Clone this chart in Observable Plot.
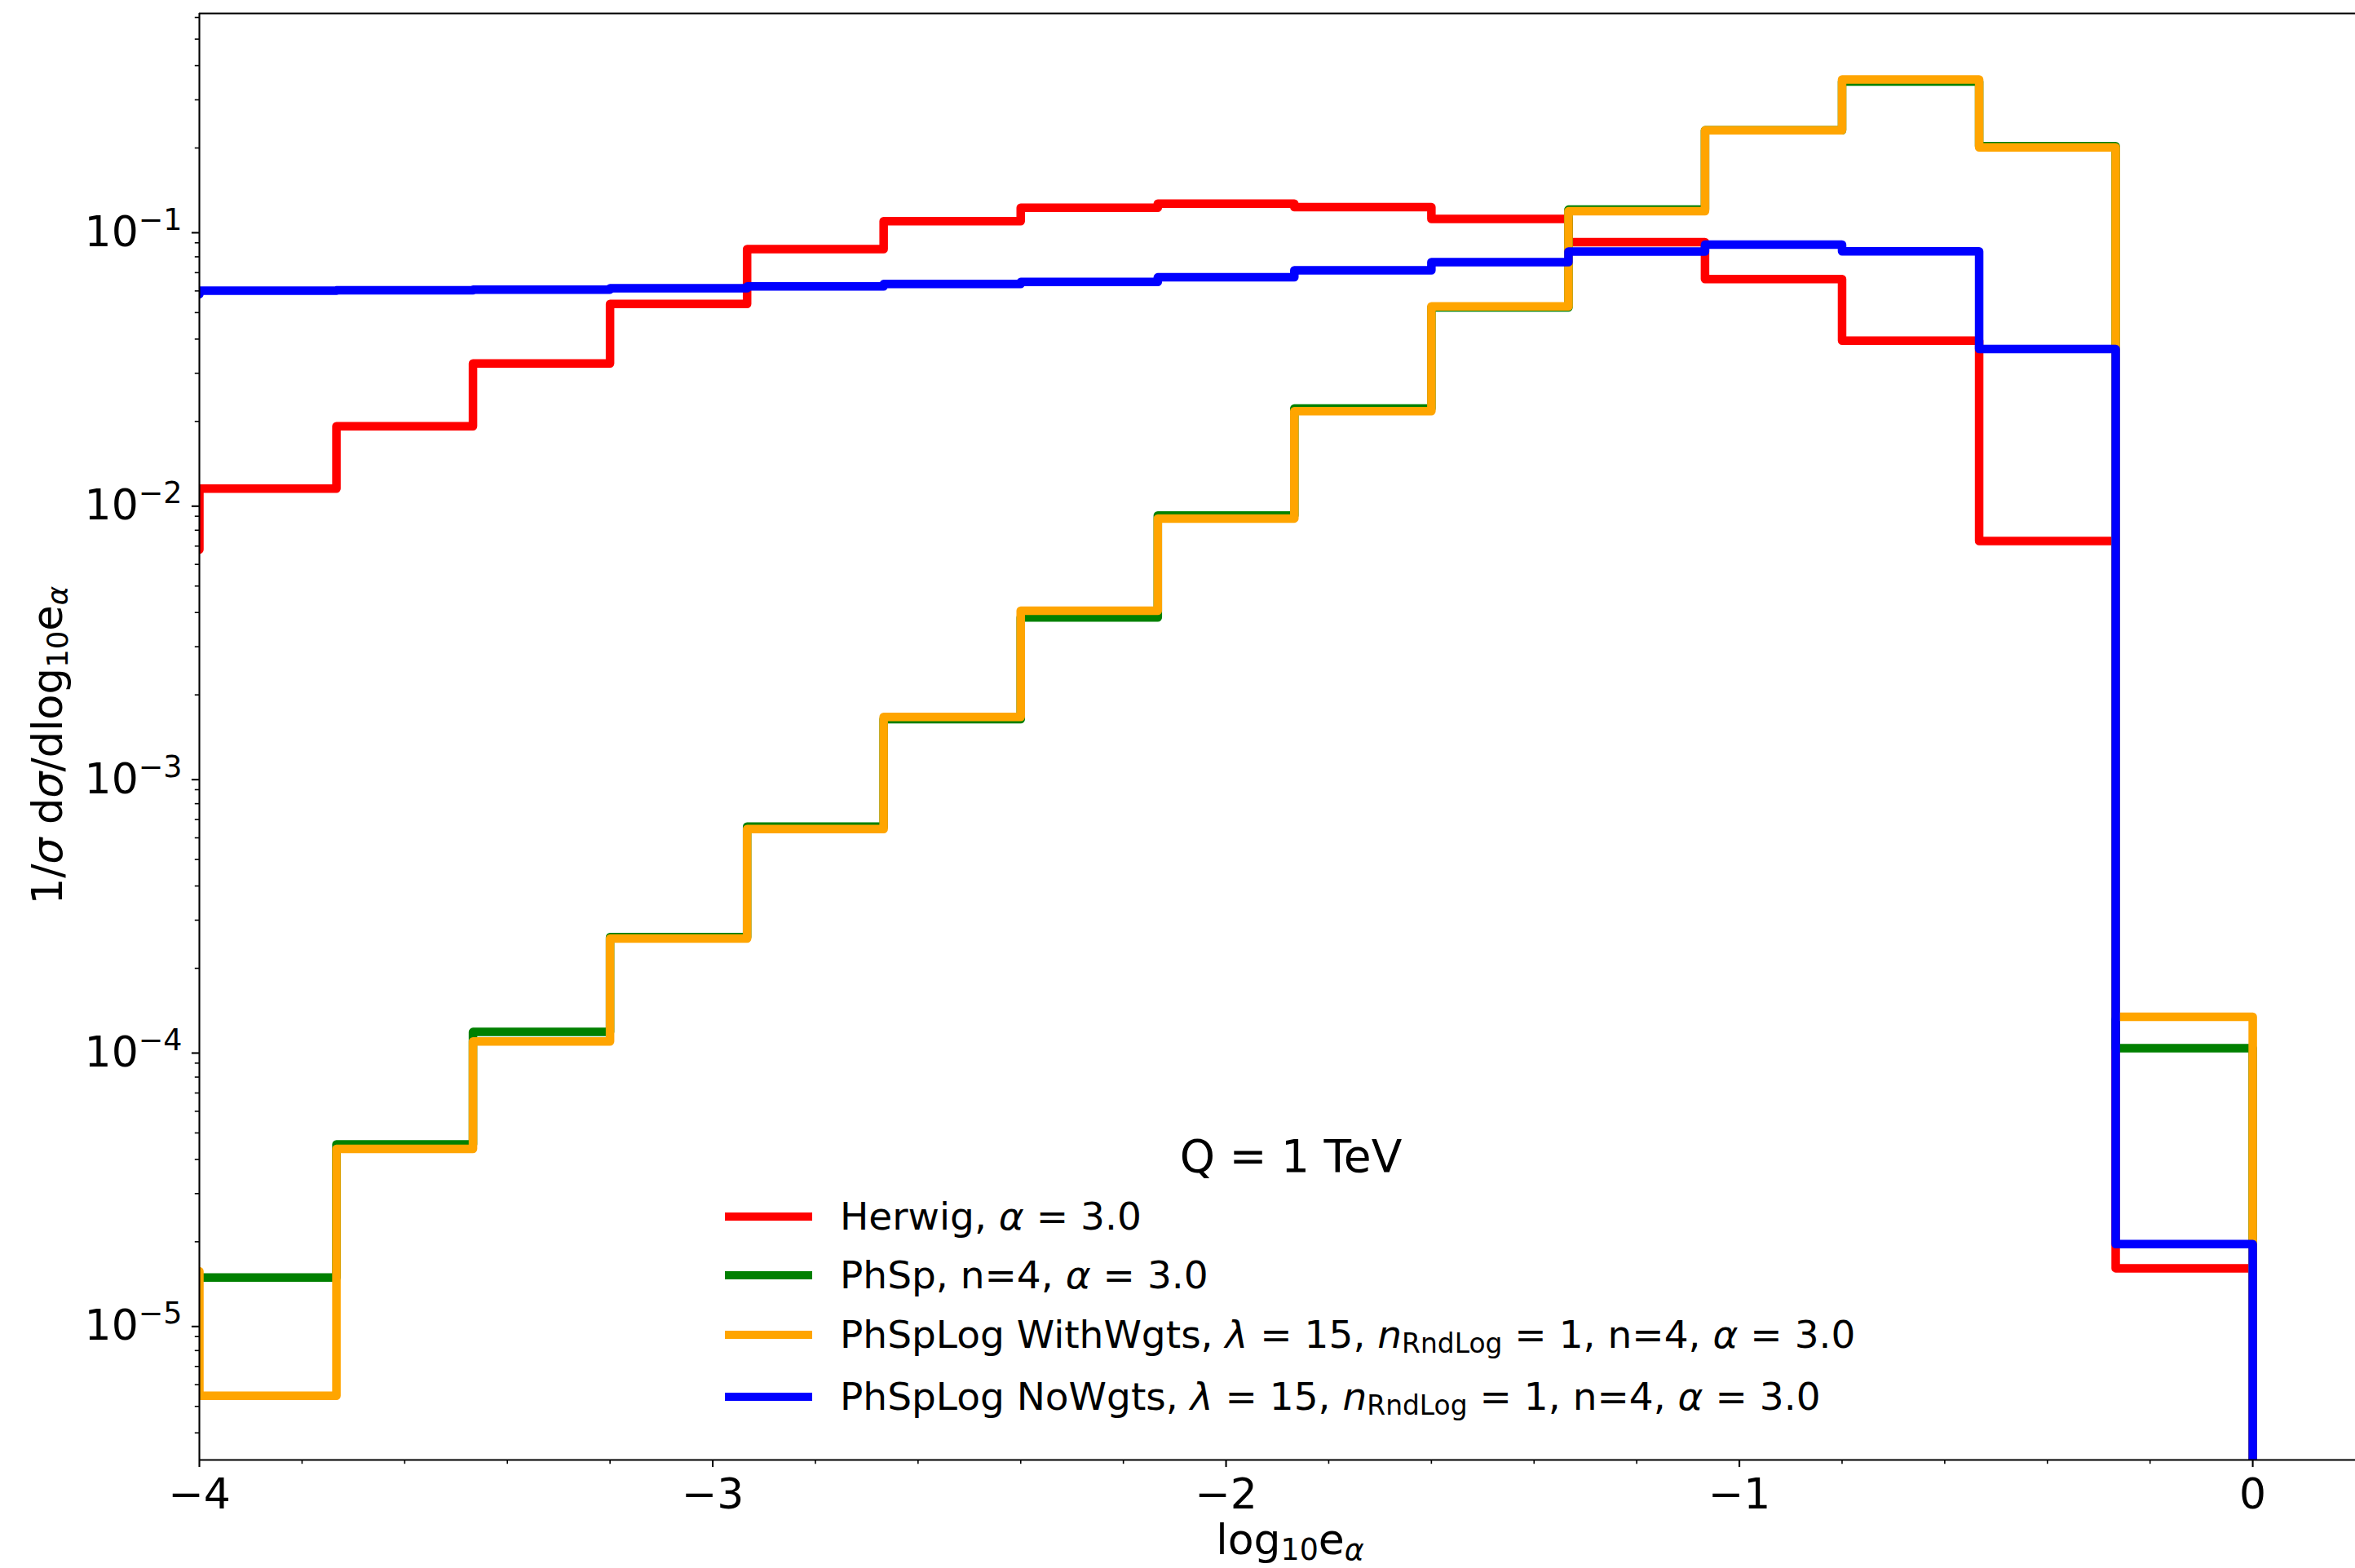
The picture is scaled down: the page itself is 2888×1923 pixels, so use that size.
<!DOCTYPE html>
<html><head><meta charset="utf-8">
<script src="https://cdn.jsdelivr.net/npm/d3@7"></script>
<script src="https://cdn.jsdelivr.net/npm/@observablehq/plot@0.6"></script>
<style>
html,body{margin:0;padding:0;background:#fff;}
#chart{position:relative;width:2888px;height:1923px;overflow:hidden;}
</style></head><body><div id="chart"></div>
<script>
// left bin edges (last entry: upper edge 0, beyond which the histograms are empty)
const binEdges = [-4.267, -4.0, -3.733, -3.467, -3.2, -2.933, -2.667, -2.4, -2.133, -1.867, -1.6, -1.333, -1.067, -0.8, -0.533, -0.267, 0.0];
// per-bin values; the last value is the empty region beyond 0 (below the axis)
const herwig          = [0.0068, 0.01135, 0.0192, 0.0326, 0.0538, 0.0854, 0.108, 0.121, 0.1252, 0.1216, 0.110, 0.0905, 0.0663, 0.0395, 0.0073, 1.6e-5, 1e-9];
const phsp            = [1.5e-5, 1.48e-5, 4.54e-5, 1.17e-4, 2.6e-4, 6.6e-4, 1.63e-3, 3.84e-3, 9.06e-3, 0.0223, 0.0522, 0.119, 0.232, 0.350, 0.203, 1.02e-4, 1e-9];
const phspLogWithWgts = [1.56e-5, 5.47e-6, 4.37e-5, 1.08e-4, 2.57e-4, 6.46e-4, 1.66e-3, 4.06e-3, 8.83e-3, 0.0218, 0.0527, 0.1175, 0.232, 0.356, 0.201, 1.33e-4, 1e-9];
const phspLogNoWgts   = [0.0584, 0.0601, 0.0603, 0.0607, 0.0614, 0.0623, 0.0636, 0.0647, 0.0673, 0.0714, 0.0765, 0.0836, 0.0887, 0.0838, 0.0368, 1.96e-5, 1e-9];

const seriesNames  = ["Herwig", "PhSp", "PhSpLog WithWgts", "PhSpLog NoWgts"];
const seriesValues = [herwig, phsp, phspLogWithWgts, phspLogNoWgts];
const seriesColors = ["red", "green", "orange", "blue"];

const xDomain = [-4, 0.2];
const yDomain = [Math.pow(10, -5.497), Math.pow(10, -0.207)];
const xTicks = [-4, -3, -2, -1, 0];
const xTickLabels = ["−4", "−3", "−2", "−1", "0"];
const xMinorTicks = [-3.8, -3.6, -3.4, -3.2, -2.8, -2.6, -2.4, -2.2, -1.8, -1.6, -1.4, -1.2, -0.8, -0.6, -0.4, -0.2];
const yTicks = [1e-5, 1e-4, 1e-3, 1e-2, 1e-1];
const yTickLabels = ["10^−5", "10^−4", "10^−3", "10^−2", "10^−1"];
const yMinorTicks = [];
for (let e = -6; e <= -1; e++) for (let m = 2; m <= 9; m++) {
  const v = m * Math.pow(10, e);
  if (v >= yDomain[0] && v <= yDomain[1]) yMinorTicks.push(v);
}

const rows = [];
seriesNames.forEach((name, s) => {
  binEdges.forEach((x, i) => rows.push({series: name, x, y: seriesValues[s][i]}));
});

const FS = 52;
const plot = Plot.plot({
  width: 2888, height: 1923,
  marginLeft: 244, marginRight: 0, marginTop: 16, marginBottom: 133,
  style: {fontFamily: "DejaVu Sans", fontSize: FS + "px", color: "black", background: "white"},
  x: {domain: xDomain, label: null},
  y: {type: "log", domain: yDomain, label: null},
  color: {domain: seriesNames, range: seriesColors},
  marks: [
    Plot.line(rows, {x: "x", y: "y", z: "series", stroke: "series", strokeWidth: 10.5,
      curve: "step-after", clip: true, strokeLinejoin: "round", strokeLinecap: "butt"}),
    Plot.axisX({ticks: xMinorTicks, tickSize: 5.2, strokeWidth: 1.6, tickFormat: () => "", label: null}),
    Plot.axisX({ticks: xTicks, tickSize: 9.1, strokeWidth: 2.1, tickPadding: 13,
      tickFormat: d => xTickLabels[xTicks.indexOf(d)], label: null}),
    Plot.axisY({ticks: yMinorTicks, tickSize: 5.2, strokeWidth: 1.6, tickFormat: () => "", label: null}),
    Plot.axisY({ticks: yTicks, tickSize: 9.1, strokeWidth: 2.1, tickPadding: 12, dy: 3,
      tickFormat: d => yTickLabels[yTicks.indexOf(d)], label: null}),
    Plot.ruleX([xDomain[0]], {strokeWidth: 2.1}),
    Plot.ruleY(yDomain, {strokeWidth: 2.1})
  ]
});
document.getElementById("chart").appendChild(plot);

const svg = d3.select(plot);
// superscript exponents on the y tick labels
svg.selectAll('g[aria-label="y-axis tick label"] text').each(function () {
  const t = this.textContent;
  if (!t.includes("^")) return;
  const [base, exp] = t.split("^");
  const sel = d3.select(this);
  sel.text(base);
  sel.append("tspan").attr("dy", -20).attr("font-size", 36.4).text(exp);
});

// rich text helper: parts [{t, it, sub}]
function rich(g, parts, attrs, fs = FS) {
  const txt = g.append("text").attr("font-family", "DejaVu Sans").attr("font-size", fs)
    .attr("fill", "black").attr("text-anchor", "start");
  Object.entries(attrs).forEach(([k, v]) => txt.attr(k, v));
  let off = 0;
  parts.forEach(p => {
    const target = p.sub ? Math.round(fs * 0.135) : 0;
    const ts = txt.append("tspan").text(p.t);
    if (target !== off) { ts.attr("dy", target - off); off = target; }
    if (p.sub) ts.attr("font-size", fs * 0.7);
    if (p.it) ts.attr("font-style", "italic");
  });
  return txt;
}

const ann = svg.append("g");
// axis labels
rich(ann, [{t: "log"}, {t: "10", sub: true}, {t: "e"}, {t: "α", it: true, sub: true}],
  {x: 1582, y: 1906, "text-anchor": "middle"});
rich(ann, [{t: "1/"}, {t: "σ", it: true}, {t: " d"}, {t: "σ", it: true}, {t: "/dlog"}, {t: "10", sub: true}, {t: "e"}, {t: "α", it: true, sub: true}],
  {transform: "translate(76,914) rotate(-90)", "text-anchor": "middle"}, 51);

// legend
const legendTitle = "Q = 1 TeV";
const legendParts = [
  [{t: "Herwig, "}, {t: "α", it: true}, {t: " = 3.0"}],
  [{t: "PhSp, n=4, "}, {t: "α", it: true}, {t: " = 3.0"}],
  [{t: "PhSpLog WithWgts, "}, {t: "λ", it: true}, {t: " = 15, "}, {t: "n", it: true}, {t: "RndLog", sub: true}, {t: " = 1, n=4, "}, {t: "α", it: true}, {t: " = 3.0"}],
  [{t: "PhSpLog NoWgts, "}, {t: "λ", it: true}, {t: " = 15, "}, {t: "n", it: true}, {t: "RndLog", sub: true}, {t: " = 1, n=4, "}, {t: "α", it: true}, {t: " = 3.0"}]
];
const legendBaselines = [1508, 1580, 1653, 1729];
const legendHandleY = [1492, 1564, 1637, 1713];
rich(ann, [{t: legendTitle}], {x: 1583, y: 1437, "text-anchor": "middle"}, 55);
legendParts.forEach((parts, i) => {
  ann.append("line").attr("x1", 889).attr("x2", 996)
    .attr("y1", legendHandleY[i]).attr("y2", legendHandleY[i])
    .attr("stroke", seriesColors[i]).attr("stroke-width", 10);
  rich(ann, parts, {x: 1030, y: legendBaselines[i]}, 47);
});
</script></body></html>
